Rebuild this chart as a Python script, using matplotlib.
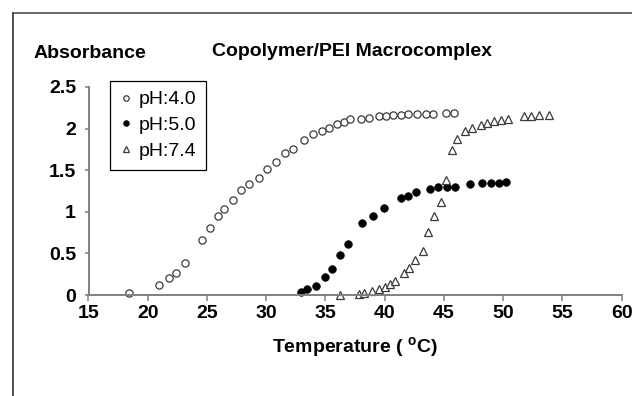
import matplotlib

matplotlib.use("Agg")
import matplotlib.pyplot as plt
from matplotlib.lines import Line2D

plt.rcParams["font.family"] = ["Liberation Sans", "DejaVu Sans"]

# pH 4.0 (open circles)
t_ph40 = [18.44, 20.98, 21.77, 22.36, 23.14, 24.6, 25.28, 25.95, 26.43, 27.22,
          27.9, 28.57, 29.36, 30.06, 30.8, 31.6, 32.23, 33.16, 33.92, 34.7,
          35.3, 35.94, 36.53, 37.07, 37.97, 38.67, 39.54, 40.08, 40.72, 41.37,
          41.99, 42.75, 43.45, 44.1, 45.14, 45.87]
a_ph40 = [0.03, 0.12, 0.20, 0.26, 0.38, 0.66, 0.81, 0.95, 1.03, 1.14,
          1.26, 1.33, 1.41, 1.51, 1.60, 1.71, 1.75, 1.86, 1.93, 1.97,
          2.01, 2.05, 2.08, 2.11, 2.12, 2.13, 2.15, 2.15, 2.16, 2.16,
          2.17, 2.17, 2.17, 2.17, 2.19, 2.19]

# pH 5.0 (filled circles)
t_ph50 = [32.93, 33.44, 34.22, 35.0, 35.54, 36.2, 36.93, 38.08, 39.04, 39.94,
          41.37, 41.98, 42.68, 43.81, 44.5, 45.26, 45.96, 47.22, 48.22, 48.96,
          49.62, 50.25]
a_ph50 = [0.04, 0.07, 0.11, 0.22, 0.31, 0.48, 0.61, 0.86, 0.95, 1.05,
          1.16, 1.19, 1.24, 1.27, 1.30, 1.30, 1.30, 1.33, 1.35, 1.35,
          1.35, 1.36]

# pH 7.4 (open triangles)
t_ph74 = [36.2, 37.83, 38.22, 38.9, 39.51, 39.99, 40.47, 40.89, 41.65, 42.07,
          42.55, 43.2, 43.65, 44.18, 44.77, 45.14, 45.7, 46.12, 46.75, 47.36,
          48.12, 48.63, 49.22, 49.84, 50.37, 51.72, 52.31, 52.99, 53.86]
a_ph74 = [0.0, 0.01, 0.03, 0.05, 0.075, 0.10, 0.13, 0.17, 0.26, 0.33,
          0.42, 0.53, 0.76, 0.955, 1.12, 1.38, 1.74, 1.87, 1.97, 2.01,
          2.04, 2.07, 2.09, 2.10, 2.12, 2.15, 2.15, 2.16, 2.16]

x_ticks = [15, 20, 25, 30, 35, 40, 45, 50, 55, 60]
y_ticks = [0, 0.5, 1, 1.5, 2, 2.5]
y_ticklabels = ["0", "0.5", "1", "1.5", "2", "2.5"]

W, H = 632, 396
fig = plt.figure(figsize=(W / 100, H / 100), dpi=100)
ax = fig.add_axes([88.5 / W, 1 - 295 / H, (621.7 - 88.5) / W, (295 - 87) / H])

ax.plot(t_ph40, a_ph40, "o", ms=5.2, mfc="white", mec="#3a3a3a", mew=0.9,
        clip_on=False, label="pH:4.0")
ax.plot(t_ph50, a_ph50, "o", ms=5.4, mfc="black", mec="black", mew=0.6,
        clip_on=False, label="pH:5.0")
ax.plot(t_ph74, a_ph74, "^", ms=6, mfc="white", mec="#3a3a3a", mew=0.9,
        clip_on=False, label="pH:7.4")

ax.set_xlim(15, 60)
ax.set_ylim(0, 2.5)
ax.set_xticks(x_ticks)
ax.set_xticklabels([str(t) for t in x_ticks])
ax.set_yticks(y_ticks)
ax.set_yticklabels(y_ticklabels)
for side in ("top", "right"):
    ax.spines[side].set_visible(False)
for side in ("left", "bottom"):
    ax.spines[side].set_color("#808080")
    ax.spines[side].set_linewidth(1.4)
ax.tick_params(axis="both", direction="out", color="#808080", width=1.1,
               labelsize=14)
ax.tick_params(axis="y", length=3, pad=6)
ax.tick_params(axis="x", length=4, pad=3.5)
for lab in ax.get_xticklabels() + ax.get_yticklabels():
    lab.set_fontweight("bold")

# small raised "o" used as the degree sign, as in the source figure
ax.set_xlabel("Temperature ( $^{\\mathregular{o}}$C)", fontsize=14,
              fontweight="bold", labelpad=9)

fig.text(34 / W, 1 - 58 / H, "Absorbance", fontsize=14, fontweight="bold",
         va="baseline", ha="left")
fig.text(352 / W, 1 - 55.5 / H, "Copolymer/PEI Macrocomplex", fontsize=14,
         fontweight="bold", va="baseline", ha="center")

leg = fig.legend(loc="upper left", bbox_to_anchor=(110 / W, 1 - 81 / H),
                 borderaxespad=0, fontsize=14, markerscale=0.75,
                 handlelength=0.65, handletextpad=0.3, borderpad=0.5,
                 labelspacing=0.42, fancybox=False, framealpha=1)
leg.get_frame().set_edgecolor("black")
leg.get_frame().set_linewidth(0.9)

# outer frame of the original chart area (left and top edges visible)
fig.add_artist(Line2D([13 / W, 13 / W], [0, 1 - 13 / H], transform=fig.transFigure,
                      color="#202020", lw=1.1))
fig.add_artist(Line2D([13 / W, 1], [1 - 13 / H, 1 - 13 / H], transform=fig.transFigure,
                      color="#404040", lw=1.1))

fig.savefig("out.png", dpi=100)
